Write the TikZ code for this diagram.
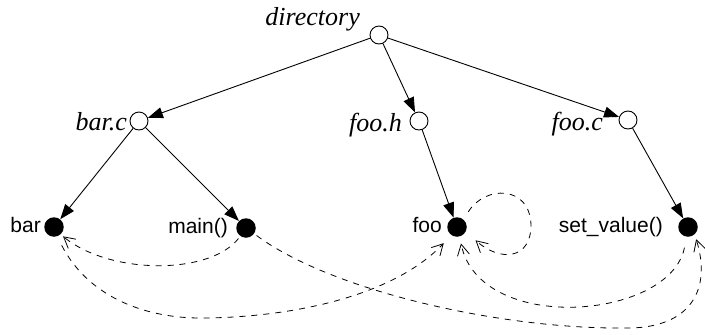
\documentclass[tikz,border=0pt]{standalone}
\usepackage{fontspec}
\setmainfont{Liberation Serif}
\setsansfont{Liberation Sans}
\usetikzlibrary{arrows.meta}
\begin{document}
\begin{tikzpicture}[x=1pt,y=-1pt,
  dirnode/.style={circle,draw,line width=0.9pt,minimum size=18pt,inner sep=0},
  fnnode/.style={circle,fill,minimum size=19.5pt,inner sep=0},
  filelabel/.style={font=\fontsize{26}{26}\selectfont\itshape,inner sep=0,anchor=base east},
  fnlabel/.style={font=\sffamily\fontsize{21}{21}\selectfont,inner sep=0,anchor=base east},
  tree/.style={line width=0.9pt,-{Triangle[length=15pt,width=11pt]}},
  ref/.style={line width=0.8pt,dash pattern=on 6pt off 6pt,-{Straight Barb[length=11pt,width=12pt]}}]
\useasboundingbox (0,0) rectangle (705,335);
% directory / file nodes
\node[dirnode] (dir) at (379,35) {};
\node[dirnode] (barc) at (139,121) {};
\node[dirnode] (fooh) at (419,121) {};
\node[dirnode] (fooc) at (628,120) {};
% function nodes
\node[fnnode] (bar) at (54,227) {};
\node[fnnode] (main) at (246,228) {};
\node[fnnode] (foo) at (457,227) {};
\node[fnnode] (setv) at (688,227) {};
% labels
\node[filelabel] (ldir) at (360,25) {directory};
\node[filelabel] (lbarc) at (127,130) {bar.c};
\node[filelabel] (lfooh) at (402,131) {foo.h};
\node[filelabel] (lfooc) at (603,130) {foo.c};
\node[fnlabel] (lbar) at (41,232) {bar};
\node[fnlabel] (lmain) at (228,233) {main()};
\node[fnlabel] (lfoo) at (442,232) {foo};
\node[fnlabel] (lsetv) at (663,232) {set\_value()};
% tree edges
\draw[tree] (dir) -- (barc);
\draw[tree] (dir) -- (fooh);
\draw[tree] (dir) -- (fooc);
\draw[tree] (barc) -- (bar);
\draw[tree] (barc) -- (main);
\draw[tree] (fooh) -- (foo);
\draw[tree] (fooc) -- (setv);
% reference edges
\draw[ref,shorten <=3pt,shorten >=3pt] (main.-125) .. controls (210,275) and (110,275) .. (bar.-48);
\draw[ref,shorten <=10pt,shorten >=11pt] (bar.-72) .. controls (90,300) and (150,318) .. (200,318) .. controls (280,318) and (390,300) .. (foo.-125);
\draw[ref,shorten <=3pt,shorten >=5pt] (main.-35) .. controls (330,290) and (500,330) .. (630,328) .. controls (690,327) and (712,290) .. (setv.-48);
\draw[ref,shorten <=11pt,shorten >=7pt] (setv.-98) .. controls (670,320) and (480,335) .. (foo.-75);
\draw[ref,shorten <=9pt,shorten >=13pt] (foo.49) .. controls (485,185) and (530,185) .. (531,225) .. controls (531,260) and (500,262) .. (foo.-28);
\end{tikzpicture}
\end{document}
